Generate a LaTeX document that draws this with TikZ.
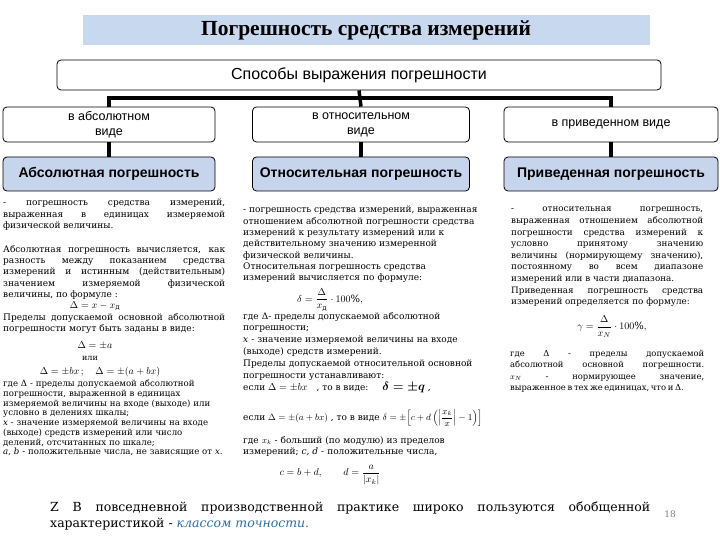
\documentclass[tikz,border=0pt]{standalone}
\usepackage{fontspec}
\usepackage{amsmath}
\setmainfont{DejaVu Serif}
\newfontfamily\headfont{Liberation Serif}
\newfontfamily\boxfont{Liberation Sans}
\definecolor{titleblue}{RGB}{200,216,238}
\definecolor{cellblue}{RGB}{198,213,235}
\definecolor{linkblue}{RGB}{40,110,170}
\tikzset{
  waybox/.style={draw=black,line width=0.8pt,rounded corners=4pt,fill=white,
    align=center,inner sep=1pt,font=\boxfont\fontsize{12.5}{15}\selectfont},
  kindbox/.style={draw=black,line width=0.8pt,rounded corners=4pt,fill=cellblue,
    align=center,inner sep=1pt,minimum height=34pt,font=\boxfont\bfseries\fontsize{14}{16}\selectfont},
  bus/.style={line width=3.5pt},
  bodytext/.style={anchor=north west,inner sep=0pt,font=\fontsize{9}{11.3}\selectfont},
  formula/.style={inner sep=0pt,font=\fontsize{10}{12}\selectfont},
}

\begin{document}
\begin{tikzpicture}[x=1pt,y=-1pt]
  \useasboundingbox (0,0) rectangle (720,540);
  % heading and the three ways
  \node[fill=titleblue,minimum width=567pt,minimum height=30pt,
        font=\headfont\bfseries\fontsize{21.5}{24}\selectfont] (title) at (366,30) {Погрешность средства измерений};
  \node[waybox,minimum width=604pt,minimum height=30pt,font=\boxfont\fontsize{16}{18}\selectfont] (ways) at (359,75) {Способы выражения погрешности};
  \node[waybox,minimum width=212pt,minimum height=35pt] (absway) at (109,124.5) {в абсолютном\\виде};
  \node[waybox,minimum width=217pt,minimum height=35pt] (relway) at (361,124.5) {в относительном\\виде};
  \node[waybox,minimum width=214pt,minimum height=35pt] (redway) at (611,124.5) {в приведенном виде};
  \node[kindbox,minimum width=212pt] (abs) at (109,174) {Абсолютная погрешность};
  \node[kindbox,minimum width=217pt] (rel) at (361,174) {Относительная погрешность};
  \node[kindbox,minimum width=214pt] (red) at (611,174) {Приведенная погрешность};
  \coordinate (bar) at (361,98);
  \draw[bus] (absway.north) |- (redway.north |- bar) -- (redway.north);
  \draw[bus] (ways.south) -- (relway.north);
  \draw[bus] (absway.south) -- (abs.north);
  \draw[bus] (relway.south) -- (rel.north);
  \draw[bus] (redway.south) -- (red.north);

  % absolute error
  \node[bodytext,text width=222pt,align=justify] (abstxt) at (3,199)
    {- погрешность средства измерений,\linebreak выраженная в единицах измеряемой\linebreak физической величины.};
  \node[bodytext,text width=222pt,align=justify] (absdef) at (3,245)
    {Абсолютная погрешность вычисляется, как\linebreak разность между показанием средства\linebreak
     измерений и истинным (действительным)\linebreak значением измеряемой физической\linebreak величины, по формуле :};
  \node[formula] (absf) at (95,306) {$\Delta = x - x_{\mbox{\scriptsize д}}$};
  \node[bodytext,text width=222pt,align=justify] (abslim) at (3,313)
    {Пределы допускаемой основной абсолютной\linebreak погрешности могут быть заданы в виде:};
  \node[formula] (absa) at (95,345) {$\Delta = \pm a$};
  \node[formula,font=\fontsize{8}{10}\selectfont] (absor) at (90,358) {или};
  \node[formula] (absbx) at (100,372) {$\Delta = \pm bx\,;\quad \Delta = \pm(a+bx)$};
  \node[bodytext,text width=228pt,align=left,font=\fontsize{8.6}{9.7}\selectfont] (absnote) at (3,380)
    {где Δ - пределы допускаемой абсолютной\\ погрешности, выраженной в единицах\\ измеряемой величины на входе (выходе) или\\
     условно в делениях шкалы;\\ \textit{x} - значение измеряемой величины на входе\\ (выходе) средств измерений или число\\
     делений, отсчитанных по шкале;\\ \textit{a, b} - положительные числа, не зависящие от \textit{x}.};

  % relative error
  \node[bodytext,text width=240pt,align=left] (reltxt) at (243,206)
    {- погрешность средства измерений, выраженная\\ отношением абсолютной погрешности средства\\ измерений к результату измерений или к\\
     действительному значению измеренной\\ физической величины.\\ Относительная погрешность средства\\ измерений вычисляется по формуле:};
  \node[formula] (relf) at (330,300) {$\delta = \dfrac{\Delta}{x_{\mbox{\scriptsize д}}}\cdot 100\%,$};
  \node[bodytext,text width=240pt,align=left,font=\fontsize{9}{11.8}\selectfont] (relnote) at (243,312)
    {где Δ- пределы допускаемой абсолютной\\ погрешности;\\ \textit{x} - значение измеряемой величины на входе\\
     (выходе) средств измерений.\\ Пределы допускаемой относительной основной\\ погрешности устанавливают:};
  \node[bodytext,anchor=west] (relq) at (243,387)
    {если {\fontsize{10}{12}\selectfont$\Delta = \pm bx$}\quad, то в виде:\hspace{14pt}{\fontsize{12.5}{14}\selectfont$\boldsymbol{\delta = \pm q}$} ,};
  \node[bodytext,anchor=west] (relcd) at (243,418)
    {если $\Delta = \pm(a+bx)$ , то в виде $\delta = \pm\!\left[c + d\left(\left|\dfrac{x_k}{x}\right| - 1\right)\right]$};
  \node[bodytext,text width=240pt,align=left] (relk) at (243,436)
    {где $x_k$ - больший (по модулю) из пределов\\ измерений; \textit{c, d} - положительные числа,};
  \node[formula] (relcdf) at (330,475) {$c = b + d,\qquad d = \dfrac{a}{|x_k|}$};

  % reduced error
  \node[bodytext,text width=192pt,align=justify,font=\fontsize{8.8}{11.6}\selectfont] (redtxt) at (511,207)
    {- относительная погрешность,\linebreak выраженная отношением абсолютной\linebreak погрешности средства измерений к\linebreak
     условно принятому значению\linebreak величины (нормирующему значению),\linebreak постоянному во всем диапазоне\linebreak
     измерений или в части диапазона.\par Приведенная погрешность средства\linebreak измерений определяется по формуле:};
  \node[formula] (redf) at (612,327) {$\gamma = \dfrac{\Delta}{x_N}\cdot 100\%,$};
  \node[bodytext,text width=194pt,align=justify,font=\fontsize{8.4}{11.4}\selectfont] (rednote) at (510,350)
    {где Δ - пределы допускаемой\linebreak абсолютной основной погрешности.\linebreak $x_N$ - нормирующее значение,\linebreak
     {\spaceskip=0.2em plus 0.1em minus 0.05em\relax выраженное в тех же единицах, что и~Δ.}};

  % accuracy class remark
  \node[bodytext,text width=600pt,align=justify,font=\fontsize{12.5}{16}\selectfont] (remark) at (50,502)
    {Z\ В повседневной производственной практике широко пользуются обобщенной\linebreak
     характеристикой - {\color{linkblue}\itshape классом точности.}};
  \node[formula,font=\fontsize{9}{11}\selectfont,text=gray] (page) at (670,514) {18};
\end{tikzpicture}
\end{document}
